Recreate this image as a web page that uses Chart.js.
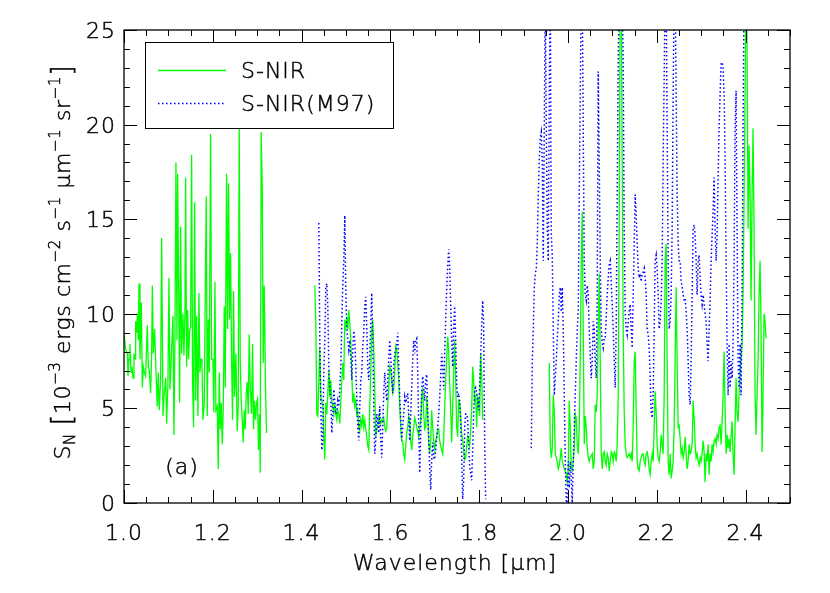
<!DOCTYPE html>
<html lang="en">
<head>
<meta charset="UTF-8">
<title>S-NIR spectrum</title>
<script src="https://cdn.jsdelivr.net/npm/chart.js"></script>
<style>
  body { margin: 0; background: #fff; }
</style>
</head>
<body>
<canvas id="spectrum" width="830" height="593"></canvas>
<script>
// wavelength grids [um], one per observed window
const waveJ = [
  1.0000,1.0038,1.0075,1.0090,1.0113,1.0135,1.0158,1.0180,1.0203,1.0225,
  1.0248,1.0263,1.0285,1.0300,1.0323,1.0338,1.0360,1.0390,1.0413,1.0435,
  1.0458,1.0488,1.0525,1.0548,1.0570,1.0600,1.0623,1.0638,1.0660,1.0690,
  1.0720,1.0750,1.0773,1.0795,1.0825,1.0848,1.0878,1.0900,1.0938,1.0960,
  1.0990,1.1013,1.1035,1.1073,1.1103,1.1125,1.1148,1.1170,1.1193,1.1208,
  1.1230,1.1253,1.1275,1.1298,1.1328,1.1350,1.1373,1.1388,1.1410,1.1433,
  1.1455,1.1478,1.1500,1.1523,1.1545,1.1568,1.1590,1.1613,1.1635,1.1665,
  1.1688,1.1710,1.1733,1.1755,1.1778,1.1808,1.1830,1.1853,1.1875,1.1898,
  1.1920,1.1950,1.1973,1.2003,1.2025,1.2048,1.2070,1.2100,1.2123,1.2145,
  1.2168,1.2190,1.2213,1.2235,1.2258,1.2280,1.2310,1.2333,1.2355,1.2378,
  1.2400,1.2423,1.2445,1.2468,1.2490,1.2520,1.2550,1.2573,1.2595,1.2618,
  1.2640,1.2663,1.2685,1.2708,1.2730,1.2753,1.2775,1.2798,1.2820,1.2843,
  1.2873,1.2895,1.2918,1.2940,1.2963,1.2985,1.3008,1.3030,1.3053,1.3068,
  1.3090,1.3113,1.3135,1.3158,1.3188,1.3210
];
const waveH = [
  1.4298,1.4320,1.4343,1.4365,1.4388,1.4410,1.4433,1.4455,1.4478,1.4500,
  1.4523,1.4545,1.4568,1.4590,1.4613,1.4635,1.4658,1.4680,1.4703,1.4725,
  1.4748,1.4770,1.4793,1.4815,1.4838,1.4860,1.4883,1.4905,1.4928,1.4950,
  1.4973,1.4995,1.5018,1.5040,1.5063,1.5085,1.5108,1.5130,1.5153,1.5175,
  1.5198,1.5220,1.5243,1.5265,1.5288,1.5310,1.5333,1.5355,1.5378,1.5400,
  1.5423,1.5445,1.5468,1.5490,1.5513,1.5535,1.5558,1.5580,1.5603,1.5625,
  1.5648,1.5670,1.5693,1.5715,1.5738,1.5760,1.5783,1.5805,1.5828,1.5850,
  1.5873,1.5895,1.5918,1.5940,1.5963,1.5985,1.6008,1.6030,1.6053,1.6075,
  1.6098,1.6120,1.6143,1.6165,1.6188,1.6210,1.6233,1.6255,1.6278,1.6300,
  1.6323,1.6345,1.6368,1.6390,1.6413,1.6435,1.6458,1.6480,1.6503,1.6525,
  1.6548,1.6570,1.6593,1.6615,1.6638,1.6660,1.6683,1.6705,1.6728,1.6750,
  1.6773,1.6795,1.6818,1.6840,1.6863,1.6885,1.6908,1.6930,1.6953,1.6975,
  1.6998,1.7020,1.7043,1.7065,1.7088,1.7110,1.7133,1.7155,1.7178,1.7200,
  1.7223,1.7245,1.7268,1.7290,1.7313,1.7335,1.7358,1.7380,1.7403,1.7425,
  1.7448,1.7470,1.7493,1.7515,1.7538,1.7560,1.7583,1.7605,1.7628,1.7650,
  1.7673,1.7695,1.7718,1.7740,1.7763,1.7785,1.7808,1.7830,1.7853,1.7875,
  1.7898,1.7920,1.7943,1.7965,1.7988,1.8010,1.8033,1.8055,1.8078,1.8100,
  1.8123,1.8145
];
const waveK = [
  1.9173,1.9196,1.9218,1.9241,1.9263,1.9286,1.9308,1.9331,1.9353,1.9376,
  1.9398,1.9421,1.9443,1.9466,1.9488,1.9511,1.9533,1.9556,1.9578,1.9601,
  1.9623,1.9646,1.9668,1.9691,1.9713,1.9736,1.9758,1.9781,1.9803,1.9826,
  1.9848,1.9871,1.9893,1.9916,1.9938,1.9961,1.9983,2.0006,2.0028,2.0051,
  2.0073,2.0096,2.0118,2.0141,2.0163,2.0186,2.0208,2.0231,2.0253,2.0276,
  2.0298,2.0321,2.0343,2.0366,2.0388,2.0411,2.0433,2.0456,2.0478,2.0501,
  2.0523,2.0546,2.0568,2.0591,2.0613,2.0636,2.0658,2.0681,2.0703,2.0726,
  2.0748,2.0771,2.0793,2.0816,2.0838,2.0861,2.0883,2.0906,2.0928,2.0951,
  2.0973,2.0996,2.1018,2.1041,2.1063,2.1086,2.1108,2.1131,2.1153,2.1176,
  2.1198,2.1221,2.1243,2.1266,2.1288,2.1311,2.1333,2.1356,2.1378,2.1401,
  2.1423,2.1446,2.1468,2.1491,2.1513,2.1536,2.1558,2.1581,2.1603,2.1626,
  2.1648,2.1671,2.1693,2.1716,2.1738,2.1761,2.1783,2.1806,2.1828,2.1851,
  2.1873,2.1896,2.1918,2.1941,2.1963,2.1986,2.2008,2.2031,2.2053,2.2076,
  2.2098,2.2121,2.2143,2.2166,2.2188,2.2211,2.2233,2.2256,2.2278,2.2301,
  2.2323,2.2346,2.2368,2.2391,2.2413,2.2436,2.2458,2.2481,2.2503,2.2526,
  2.2548,2.2571,2.2593,2.2616,2.2638,2.2661,2.2683,2.2706,2.2728,2.2751,
  2.2773,2.2796,2.2818,2.2841,2.2863,2.2886,2.2908,2.2931,2.2953,2.2976,
  2.2998,2.3021,2.3043,2.3066,2.3088,2.3111,2.3133,2.3156,2.3178,2.3201,
  2.3223,2.3246,2.3268,2.3291,2.3313,2.3336,2.3358,2.3381,2.3403,2.3426,
  2.3448,2.3471,2.3493,2.3516,2.3538,2.3561,2.3583,2.3606,2.3628,2.3651,
  2.3673,2.3696,2.3718,2.3741,2.3763,2.3786,2.3808,2.3831,2.3853,2.3876,
  2.3898,2.3921,2.3943,2.3966,2.3988,2.4011,2.4033,2.4056,2.4078,2.4101,
  2.4123,2.4146,2.4168,2.4191,2.4213,2.4236,2.4258,2.4281,2.4303,2.4326,
  2.4348,2.4371,2.4393,2.4416,2.4438,2.4461
];

// S-NIR, 10^-3 ergs cm^-2 s^-1 um^-1 sr^-1
const snirJ = [
  9.0,8.1,7.9,6.7,7.6,8.4,6.9,7.2,6.6,7.9,
  7.6,9.6,9.0,10.0,8.6,11.6,7.6,10.6,6.1,7.2,
  6.9,6.7,9.4,7.2,7.0,5.8,7.9,11.5,7.9,9.2,
  7.0,5.1,6.9,4.9,6.5,14.0,4.6,5.6,6.6,4.2,
  6.4,11.9,6.0,8.1,9.9,3.6,9.0,18.0,8.6,17.4,
  11.8,5.3,14.6,7.9,10.0,7.8,10.0,17.2,7.2,10.2,
  7.6,9.1,9.3,18.4,6.3,4.0,15.9,5.4,9.9,4.6,
  11.1,6.9,7.6,7.6,4.4,5.2,11.0,16.2,4.6,9.7,
  6.9,19.5,7.6,7.6,4.8,11.7,4.9,5.1,1.8,6.9,
  3.9,5.3,3.1,4.8,10.4,6.1,17.4,9.2,16.9,9.7,
  13.2,7.6,4.4,11.2,5.6,7.9,3.8,5.1,20.0,7.6,
  5.4,4.4,3.2,4.9,3.9,5.8,6.4,4.7,8.9,6.1,
  4.7,8.4,3.9,5.4,4.4,5.3,5.5,2.8,4.7,1.6,
  19.6,16.7,7.4,11.5,6.1,3.7
];
const snirH = [
  11.5,9.5,4.7,4.6,6.5,8.2,5.6,5.4,5.1,3.5,
  2.3,5.3,4.7,5.8,7.0,5.6,6.5,5.4,5.1,4.7,
  5.3,4.7,4.4,4.9,4.7,4.2,5.4,6.4,7.4,6.5,
  9.7,9.3,9.7,9.2,10.2,9.5,8.6,6.9,5.3,5.8,
  5.1,5.4,4.7,4.9,4.0,3.8,4.4,4.1,4.7,4.0,
  4.4,3.9,3.5,3.0,2.8,5.1,6.9,9.1,9.7,8.1,
  6.0,3.5,3.9,4.0,4.6,4.4,4.2,4.4,4.3,4.5,
  4.0,3.8,4.0,5.1,6.1,7.2,7.0,6.5,5.8,6.0,
  7.0,8.3,8.1,7.4,6.5,5.1,4.0,3.3,3.2,2.6,
  2.3,3.0,3.7,4.0,4.6,4.3,3.3,2.8,3.5,4.0,
  4.5,4.3,4.0,3.8,3.5,4.0,4.4,5.6,6.1,4.7,
  3.9,4.0,5.6,4.7,3.2,2.6,3.3,4.9,4.0,3.3,
  2.8,3.3,3.5,3.8,3.9,3.3,3.0,2.8,2.6,3.3,
  5.1,6.5,7.6,8.8,8.1,6.3,4.9,3.2,5.1,6.9,
  8.6,6.5,4.0,3.5,5.4,5.3,4.6,3.7,3.3,2.8,
  2.3,2.4,3.0,3.5,3.3,3.0,3.9,4.9,7.2,6.5,
  5.4,5.6,4.0,5.6,5.4,4.6,7.9,6.9,4.4,null,
  null,null
];
const snirK = [
  null,null,null,null,null,null,null,null,null,null,
  null,null,null,null,null,null,null,null,7.4,3.1,
  2.4,2.9,5.7,4.8,2.6,2.4,2.2,1.8,2.0,2.4,
  2.9,2.2,2.0,1.8,1.7,1.5,1.1,1.8,5.4,4.0,
  1.8,1.7,2.2,2.9,4.7,4.5,3.1,2.6,4.0,7.5,
  12.8,15.4,9.2,3.1,4.6,4.0,2.9,2.4,2.2,2.4,
  2.5,2.6,1.8,2.2,5.2,4.8,5.7,9.2,12.1,7.5,
  2.7,1.8,2.6,2.7,2.2,2.0,2.6,2.4,1.7,2.2,
  2.7,2.6,2.2,2.7,2.6,2.2,3.1,5.7,14.5,28,
  28,18.1,9.2,4.8,3.1,2.6,2.4,2.5,2.6,2.4,
  2.6,2.2,4.0,7.5,8.0,4.8,2.2,1.8,1.7,2.2,
  2.4,2.6,2.6,2.2,2.0,2.6,2.7,2.4,1.8,1.5,
  2.2,2.6,2.2,4.0,5.9,4.8,3.1,2.4,2.2,2.7,
  3.6,3.1,2.6,5.7,12.8,13.7,7.5,2.2,1.5,2.6,
  1.3,1.7,2.2,4.0,7.5,11.4,7.5,4.0,4.1,3.4,
  2.6,2.9,2.4,2.7,3.5,2.6,1.8,2.2,3.1,2.6,
  2.7,3.1,5.4,4.5,3.1,2.4,2.6,2.2,2.0,2.4,
  2.2,2.6,3.3,2.7,1.1,2.6,2.2,3.1,1.5,2.6,
  2.2,3.1,2.7,3.3,3.4,3.1,3.6,3.4,4.0,4.1,
  3.1,4.3,5.7,8.0,5.0,2.6,3.6,2.9,3.4,2.7,
  3.6,4.3,2.6,1.5,4.0,6.6,4.8,4.3,5.7,7.1,
  7.5,8.4,11.0,16.3,21.6,28,24.2,14.5,18.9,16.3,
  10.7,16.3,19.8,14.5,5.7,3.6,5.7,7.5,11.0,12.8,
  9.2,2.7,5.7,10.0,9.6,8.7
];

// S-NIR(M97), same units
const m97H = [
  null,null,null,null,14.8,8.6,5.1,2.8,3.3,6.9,
  8.6,11.4,11.6,10.4,7.2,6.1,5.4,3.7,4.7,6.0,
  5.3,4.7,4.9,5.4,5.1,6.1,7.2,9.5,11.6,12.8,
  15.2,11.3,9.3,8.6,8.1,8.6,7.7,6.5,8.1,9.1,
  8.6,7.2,5.6,4.0,3.3,5.1,6.5,6.9,8.3,9.0,
  10.4,10.9,9.3,7.2,6.5,7.7,9.5,11.1,8.6,5.1,
  2.6,3.3,4.7,4.2,3.7,5.1,3.3,2.4,4.0,5.8,
  6.9,6.0,5.4,6.5,7.6,8.6,7.7,6.5,5.8,7.2,
  7.9,8.1,8.3,9.0,7.2,5.6,4.4,3.3,4.0,4.7,
  5.6,5.3,5.6,5.8,4.7,3.3,4.7,6.1,7.6,8.6,
  7.9,8.6,8.7,6.9,4.0,1.6,3.7,6.0,6.7,6.1,
  5.4,6.5,6.8,4.7,3.5,1.9,0.7,2.3,3.2,2.4,
  2.3,2.8,3.5,4.0,4.7,5.6,6.7,7.9,7.2,6.0,
  7.9,9.7,11.3,12.5,13.4,12.5,10.4,8.6,7.2,9.3,
  10.4,8.6,6.3,5.6,5.8,5.4,4.2,2.6,0.2,1.2,
  4.0,4.7,4.7,4.4,3.0,1.9,1.6,1.2,2.8,4.7,
  6.0,6.1,5.8,5.4,4.9,6.1,7.7,9.3,10.7,9.5,
  3.3,0.2
];
const m97K = [
  2.9,7.5,9.2,11.4,12.1,12.4,13.7,16.3,18.1,19.3,
  19.6,18.1,12.8,19.8,27,19.8,14.5,12.8,21.6,27,
  14.2,13.1,9.2,5.7,6.6,7.5,8.7,9.6,11.0,11.4,
  10.1,11.4,9.2,5.7,2.2,0.1,0,2.2,0.8,2.2,
  1.3,0,2.2,4.0,5.7,7.5,9.2,10.1,16.3,21.6,
  27,27,19.8,12.8,11.0,10.7,11.5,11.0,9.2,7.8,
  6.6,7.5,9.6,9.2,7.5,6.6,11.0,22.8,18.1,12.8,
  9.2,8.5,8.2,8.7,8.7,9.8,11.0,11.9,12.6,12.8,
  11.7,10.5,9.2,7.5,6.1,9.2,16.3,23.3,27,27,
  27,27,23.3,14.5,10.1,9.2,8.9,9.6,10.1,10.5,
  9.2,8.2,11.0,13.7,16.3,15.2,13.7,12.4,11.9,12.1,
  11.7,12.1,12.2,12.4,11.9,11.0,9.2,8.9,8.2,6.6,
  4.8,4.5,5.7,9.2,12.8,13.1,12.4,11.0,9.2,9.6,
  10.7,12.8,18.1,22.5,27,27,19.8,12.8,9.2,9.6,
  11.0,14.5,21.6,27,27,21.6,16.3,13.7,12.8,12.8,
  11.7,11.4,11.0,10.7,10.8,10.1,9.2,7.5,5.7,5.2,
  7.5,11.0,14.5,14.7,14.2,12.8,11.0,12.8,13.1,11.9,
  11.0,10.5,11.0,10.5,10.0,9.6,8.4,7.5,9.2,10.7,
  12.8,14.2,15.4,17.2,14.5,12.8,14.2,17.2,19.8,21.6,
  23.2,23.3,23.0,21.6,18.1,12.8,8.4,5.7,8.4,6.1,
  7.5,6.6,8.4,12.8,19.8,21.8,14.5,7.5,6.1,8.4,
  5.7,11.0,19.8,27,null,null,null,null,null,null,
  null,null,null,null,null,null,null,null,null,null,
  null,null,null,null,null,null
];

const xTickValues = [1.0, 1.2, 1.4, 1.6, 1.8, 2.0, 2.2, 2.4];
const xTickLabels = ['1.0', '1.2', '1.4', '1.6', '1.8', '2.0', '2.2', '2.4'];
const yTickValues = [0, 5, 10, 15, 20, 25];
const yTickLabels = ['0', '5', '10', '15', '20', '25'];

const GREEN = '#00ff00';
const BLUE = '#0000ff';
const FONT = '"DejaVu Sans", sans-serif';
const W = '200 ';

function pts(wave, vals) {
  if (wave.length !== vals.length) console.warn('length mismatch', wave.length, vals.length);
  return wave.map((w, i) => ({ x: w, y: vals[i] }));
}

function lineSet(data, color, dotted) {
  return {
    data: data,
    borderColor: color,
    borderWidth: dotted ? 1.5 : 1.3,
    borderDash: dotted ? [1.5, 2.5] : [],
    pointRadius: 0,
    tension: 0,
    spanGaps: false,
    order: dotted ? 1 : 2
  };
}

// thin text darkened with a hairline stroke
function text(ctx, s, x, y) {
  ctx.fillText(s, x, y);
  ctx.strokeText(s, x, y);
}

// rich text: [text, size, shift]
function drawRich(ctx, parts) {
  let x = 0;
  parts.forEach(p => {
    ctx.font = W + p[1] + 'px ' + FONT;
    text(ctx, p[0], x, p[2]);
    x += ctx.measureText(p[0]).width;
  });
}
function richWidth(ctx, parts) {
  let w = 0;
  parts.forEach(p => { ctx.font = W + p[1] + 'px ' + FONT; w += ctx.measureText(p[0]).width; });
  return w;
}

const decor = {
  id: 'decor',
  afterDatasetsDraw(chart) {
    const { ctx, chartArea: a, scales: { x, y } } = chart;
    ctx.save();

    // frame
    ctx.strokeStyle = '#000';
    ctx.lineWidth = 1.3;
    ctx.strokeRect(a.left, a.top, a.right - a.left, a.bottom - a.top);

    // ticks, inside on all four sides
    ctx.lineWidth = 1;
    ctx.beginPath();
    for (let i = 0; i <= 30; i++) {
      const v = 1 + i * 0.05;
      const px = Math.round(x.getPixelForValue(v)) + 0.5;
      const len = i % 4 === 0 ? 13 : 6;
      ctx.moveTo(px, a.bottom); ctx.lineTo(px, a.bottom - len);
      ctx.moveTo(px, a.top); ctx.lineTo(px, a.top + len);
    }
    for (let v = 0; v <= 25; v++) {
      const py = Math.round(y.getPixelForValue(v)) + 0.5;
      const len = v % 5 === 0 ? 13 : 6;
      ctx.moveTo(a.left, py); ctx.lineTo(a.left + len, py);
      ctx.moveTo(a.right, py); ctx.lineTo(a.right - len, py);
    }
    ctx.stroke();

    // text settings
    ctx.fillStyle = '#000';
    ctx.strokeStyle = '#000';
    ctx.lineWidth = 0.45;
    ctx.letterSpacing = '1px';
    ctx.font = W + '22px ' + FONT;
    ctx.textBaseline = 'alphabetic';

    // tick labels
    ctx.textAlign = 'center';
    xTickValues.forEach((v, i) => text(ctx, xTickLabels[i], x.getPixelForValue(v), 540));
    ctx.textAlign = 'right';
    yTickValues.forEach((v, i) => text(ctx, yTickLabels[i], 116, y.getPixelForValue(v) + 8));

    // x title
    ctx.textAlign = 'center';
    text(ctx, 'Wavelength [\u03bcm]', 455, 570);

    // y title, rotated
    ctx.letterSpacing = '0.6px';
    const parts = [
      ['S', 22, 0], ['N', 15, 5], [' ', 22, 0], ['[', 28, 2], ['10', 22, 0], ['\u22123', 15, -10],
      [' ergs cm', 22, 0], ['\u22122', 15, -10], [' s', 22, 0], ['\u22121', 15, -10],
      [' \u03bcm', 22, 0], ['\u22121', 15, -10], [' sr', 22, 0], ['\u22121', 15, -10], [']', 28, 2]
    ];
    const tw = richWidth(ctx, parts);
    ctx.save();
    ctx.translate(70, 262 + tw / 2);
    ctx.rotate(-Math.PI / 2);
    ctx.textAlign = 'left';
    drawRich(ctx, parts);
    ctx.restore();
    ctx.letterSpacing = '1px';

    // legend
    ctx.fillStyle = '#fff';
    ctx.fillRect(145, 42, 248, 86);
    ctx.strokeStyle = '#000';
    ctx.lineWidth = 1;
    ctx.strokeRect(145.5, 42.5, 248, 86);
    ctx.lineWidth = 1.3;
    ctx.strokeStyle = GREEN;
    ctx.beginPath(); ctx.moveTo(158, 70.5); ctx.lineTo(226, 70.5); ctx.stroke();
    ctx.strokeStyle = BLUE;
    ctx.lineWidth = 1.5;
    ctx.setLineDash([1.5, 2.5]);
    ctx.beginPath(); ctx.moveTo(158, 103.5); ctx.lineTo(226, 103.5); ctx.stroke();
    ctx.setLineDash([]);
    ctx.fillStyle = '#000';
    ctx.strokeStyle = '#000';
    ctx.lineWidth = 0.45;
    ctx.textAlign = 'left';
    ctx.font = W + '22px ' + FONT;
    text(ctx, 'S-NIR', 241, 78);
    text(ctx, 'S-NIR(M97)', 241, 111);

    // panel label
    ctx.textAlign = 'center';
    text(ctx, '(a)', 182, 474);
    ctx.restore();
  }
};

new Chart(document.getElementById('spectrum'), {
  type: 'line',
  data: {
    datasets: [
      lineSet(pts(waveJ, snirJ), GREEN, false),
      lineSet(pts(waveH, snirH), GREEN, false),
      lineSet(pts(waveK, snirK), GREEN, false),
      lineSet(pts(waveH, m97H), BLUE, true),
      lineSet(pts(waveK, m97K), BLUE, true)
    ]
  },
  options: {
    responsive: false,
    animation: false,
    devicePixelRatio: 1,
    layout: { padding: { left: 124, right: 40, top: 30, bottom: 90 } },
    plugins: { legend: { display: false }, tooltip: { enabled: false } },
    scales: {
      x: { type: 'linear', min: 1.0, max: 2.5, display: false },
      y: { type: 'linear', min: 0, max: 25, display: false }
    }
  },
  plugins: [decor]
});
</script>
</body>
</html>
